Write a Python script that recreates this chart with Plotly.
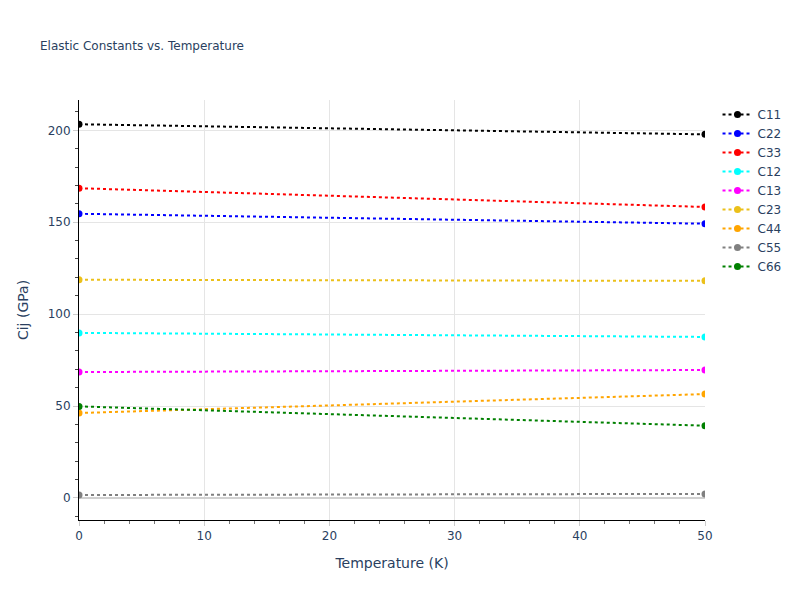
import plotly.graph_objects as go

temps = [0, 50]
names = ["C11", "C22", "C33", "C12", "C13", "C23", "C44", "C55", "C66"]
colors = ["black", "blue", "red", "cyan", "magenta", "#EBC01A", "orange", "gray", "green"]
C11 = [203.3, 197.8]
C22 = [154.6, 149.2]
C33 = [168.5, 158.3]
C12 = [89.8, 87.6]
C13 = [68.5, 69.6]
C23 = [118.7, 118.1]
C44 = [46.2, 56.5]
C55 = [1.6, 2.2]
C66 = [49.8, 39.3]
series = [C11, C22, C33, C12, C13, C23, C44, C55, C66]

fig = go.Figure()
for n, c, v in zip(names, colors, series):
    fig.add_trace(go.Scatter(x=temps, y=v, name=n, mode="lines+markers",
                             line=dict(color=c, dash="dot", width=2),
                             marker=dict(color=c, size=7)))

fig.update_layout(
    width=792, height=592,
    template="plotly_white",
    title=dict(text="Elastic Constants vs. Temperature", font=dict(size=12),
               x=0.0404, xanchor="left", y=0.9358, yanchor="middle"),
    margin=dict(l=71, r=95, t=92, b=80),
    legend=dict(font=dict(size=12)),
    font=dict(family="Verdana, DejaVu Sans, sans-serif", size=12),
)
fig.update_xaxes(title_text="Temperature (K)", title_font=dict(size=14), range=[0, 50],
                 showline=True, linecolor="black",
                 gridcolor="#e5e5e5", ticks="outside", tickcolor="#ccc", ticklen=5, dtick=10,
                 minor=dict(ticks="outside", dtick=2, ticklen=3, tickcolor="#777", showgrid=False),
                 zeroline=False)
fig.update_yaxes(title_text="Cij (GPa)", title_font=dict(size=14), range=[-12, 216.5],
                 showline=True, linecolor="black",
                 gridcolor="#e5e5e5", ticks="outside", tickcolor="#ccc", ticklen=5, dtick=50,
                 minor=dict(ticks="outside", dtick=10, ticklen=3, tickcolor="#444", showgrid=False),
                 zeroline=True, zerolinecolor="#d0d0d0", zerolinewidth=2)
fig.write_html("out.html")
